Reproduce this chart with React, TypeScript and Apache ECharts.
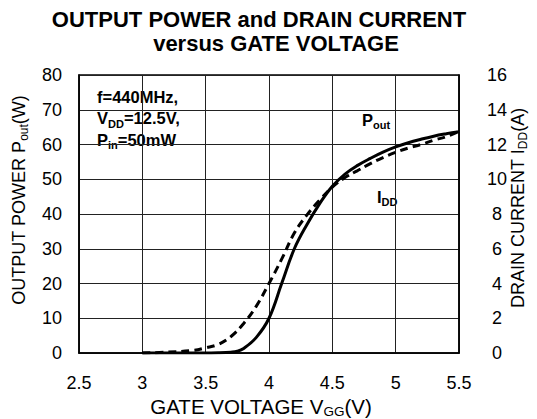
import React, { useEffect, useRef } from "react";
import * as echarts from "echarts";

const VGG_POUT = [3.0, 3.2, 3.4, 3.6, 3.7, 3.75, 3.8, 3.9, 4.0, 4.1, 4.2, 4.3, 4.4, 4.5, 4.6, 4.7, 4.8, 4.9, 5.0, 5.1, 5.2, 5.3, 5.4, 5.5];
const POUT = [0, 0, 0, 0.1, 0.25, 0.5, 1.3, 4.5, 10, 20, 30, 37, 43, 48, 51.5, 54, 56, 57.8, 59.3, 60.5, 61.5, 62.4, 63.1, 63.7];

const VGG_IDD = [3.0, 3.2, 3.4, 3.5, 3.6, 3.7, 3.8, 3.9, 4.0, 4.1, 4.2, 4.3, 4.4, 4.5, 4.6, 4.7, 4.8, 4.9, 5.0, 5.1, 5.2, 5.3, 5.4, 5.5];
const IDD = [0, 0.05, 0.15, 0.3, 0.5, 0.95, 1.7, 2.7, 4.0, 5.4, 6.9, 7.95, 8.8, 9.55, 10.1, 10.5, 10.9, 11.25, 11.55, 11.8, 12.0, 12.25, 12.45, 12.75];

const X_MIN = 2.5, X_MAX = 5.5, X_STEP = 0.5;
const YL_MIN = 0, YL_MAX = 80, YL_STEP = 10;
const YR_MIN = 0, YR_MAX = 16, YR_STEP = 2;

const TITLE_1 = "OUTPUT POWER and DRAIN CURRENT";
const TITLE_2 = "versus GATE VOLTAGE";

const FONT = "'Liberation Sans', Arial, Helvetica, sans-serif";

export default function App() {
  const ref = useRef<HTMLDivElement>(null);
  useEffect(() => {
    if (!ref.current) return;
    const chart = echarts.init(ref.current, null, { renderer: "svg" });
    const nameRich = {
      a: { fontSize: 18, fontFamily: FONT, color: "#000", lineHeight: 22, verticalAlign: "middle" },
      s: { fontSize: 12, fontFamily: FONT, color: "#000", lineHeight: 22, verticalAlign: "bottom" },
    };
    const xNameRich = {
      a: { fontSize: 20.5, fontFamily: FONT, color: "#000", lineHeight: 24, verticalAlign: "middle" },
      s: { fontSize: 13.5, fontFamily: FONT, color: "#000", lineHeight: 24, verticalAlign: "bottom" },
    };
    const noteRich = {
      a: { fontSize: 16.5, fontWeight: "bold", fontFamily: FONT, color: "#000", lineHeight: 21.5, verticalAlign: "middle" },
      s: { fontSize: 11, fontWeight: "bold", fontFamily: FONT, color: "#000", lineHeight: 21.5, verticalAlign: "bottom" },
    };
    chart.setOption({
      animation: false,
      backgroundColor: "#fff",
      grid: { left: 79, right: 78, top: 75, bottom: 66, show: true, borderColor: "#000", borderWidth: 1.5, backgroundColor: "transparent" },
      xAxis: {
        type: "value",
        min: X_MIN,
        max: X_MAX,
        interval: X_STEP,
        axisLine: { show: true, lineStyle: { color: "#000", width: 1.5 } },
        axisTick: { show: false },
        axisLabel: { color: "#000", fontSize: 18, fontFamily: FONT, margin: 21, formatter: (v: number) => String(v) },
        splitLine: { show: true, lineStyle: { color: "#222", width: 1 } },
      },
      yAxis: [
        {
          type: "value",
          min: YL_MIN,
          max: YL_MAX,
          interval: YL_STEP,
          axisLine: { show: true, lineStyle: { color: "#000", width: 1.5 } },
          axisTick: { show: false },
          axisLabel: { color: "#000", fontSize: 18, fontFamily: FONT, margin: 17 },
          splitLine: { show: true, lineStyle: { color: "#222", width: 1 } },
        },
        {
          type: "value",
          min: YR_MIN,
          max: YR_MAX,
          interval: YR_STEP,
          position: "right",
          axisLine: { show: true, lineStyle: { color: "#000", width: 1.5 } },
          axisTick: { show: false },
          axisLabel: { color: "#000", fontSize: 18, fontFamily: FONT, margin: 38, align: "center" },
          splitLine: { show: false },
        },
      ],
      series: [
        {
          name: "Pout",
          type: "line",
          yAxisIndex: 0,
          smooth: 0.4,
          showSymbol: false,
          data: VGG_POUT.map((x, i) => [x, POUT[i]]),
          lineStyle: { color: "#000", width: 3, type: "solid" },
          z: 3,
        },
        {
          name: "IDD",
          type: "line",
          yAxisIndex: 1,
          smooth: 0.4,
          showSymbol: false,
          data: VGG_IDD.map((x, i) => [x, IDD[i]]),
          lineStyle: { color: "#000", width: 3, type: [8, 5] },
          z: 4,
        },
      ],
      graphic: [
        { type: "text", x: 259, y: 19, style: { text: TITLE_1, font: `bold 22px ${FONT}`, fill: "#000", align: "center", verticalAlign: "middle" } },
        { type: "text", x: 276, y: 43, style: { text: TITLE_2, font: `bold 22px ${FONT}`, fill: "#000", align: "center", verticalAlign: "middle" } },
        {
          type: "text", x: 261, y: 406,
          style: { text: "{a|GATE VOLTAGE V}{s|GG}{a|(V)}", rich: xNameRich, align: "center", verticalAlign: "middle" },
        },
        {
          type: "text", x: 19, y: 200, rotation: Math.PI / 2,
          style: { text: "{a|OUTPUT POWER P}{s|out}{a|(W)}", rich: nameRich, align: "center", verticalAlign: "middle" },
        },
        {
          type: "text", x: 518, y: 208, rotation: Math.PI / 2,
          style: { text: "{a|DRAIN CURRENT I}{s|DD}{a|(A)}", rich: nameRich, align: "center", verticalAlign: "middle" },
        },
        {
          type: "text", x: 97, y: 86,
          style: { text: "{a|f=440MHz,}\n{a|V}{s|DD}{a|=12.5V,}\n{a|P}{s|in}{a|=50mW}", rich: noteRich, align: "left", verticalAlign: "top" },
        },
        {
          type: "text", x: 362, y: 109,
          style: { text: "{a|P}{s|out}", rich: noteRich, align: "left", verticalAlign: "top" },
        },
        {
          type: "text", x: 377, y: 186,
          style: { text: "{a|I}{s|DD}", rich: noteRich, align: "left", verticalAlign: "top" },
        },
      ],
    });
    return () => chart.dispose();
  }, []);
  return <div ref={ref} style={{ width: 537, height: 419, position: "fixed", left: 0, top: 0 }} />;
}
